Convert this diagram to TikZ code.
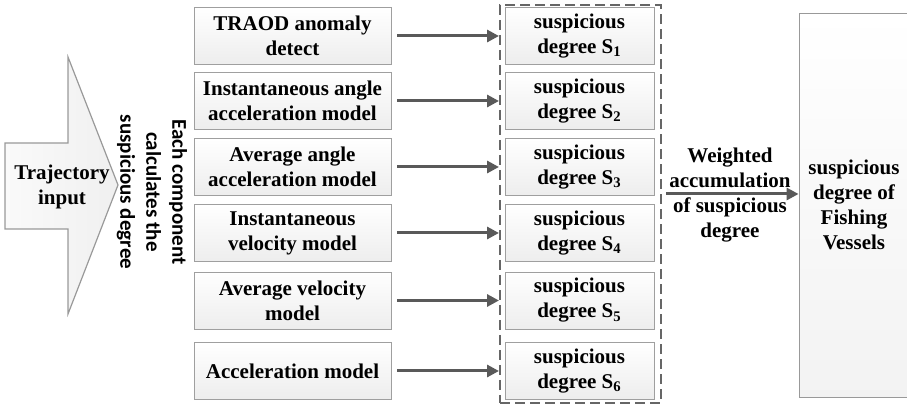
\documentclass[tikz,border=0pt]{standalone}
\usepackage{fontspec}
\setmainfont{Liberation Serif}
\newfontfamily\capfont{Carlito}
\usepackage{tikz}
\usetikzlibrary{arrows.meta,positioning,calc}

\begin{document}
\begin{tikzpicture}[
  x=0.5pt,y=-0.5pt,
  model/.style={rectangle,draw=gray!75,top color=white,bottom color=gray!14,minimum width=98.5pt,minimum height=28.5pt,inner sep=1pt,align=center,font=\bfseries\fontsize{10.5}{12.5}\selectfont},
  score/.style={model,minimum width=74.5pt},
  flow/.style={-{Triangle[length=6pt,width=6pt]},line width=1.5pt,draw=black!65},
  group/.style={rectangle,draw=black!60,dashed,dash pattern=on 5pt off 2.5pt,line width=1pt,minimum width=80.5pt,minimum height=199pt,inner sep=0pt},
  >=Stealth
]
\useasboundingbox (0,0) rectangle (907,405);

% Input arrow
\draw[draw=gray!80,left color=gray!4,right color=gray!12,line width=0.6pt]
  (5,143) -- (68,143) -- (68,57) -- (118,185) -- (68,314) -- (68,229) -- (5,229) -- cycle;
\node[font=\bfseries\fontsize{10.5}{12.5}\selectfont,align=center] (traj) at (62,187) {Trajectory\\input};
\node[font=\capfont\bfseries\fontsize{10.5}{13}\selectfont,align=center,rotate=-90] (each) at (152,192)
  {Each component\\calculates the\\suspicious degree};

% Models
\node[model] (m1) at (292.5,36)  {TRAOD anomaly\\detect};
\node[model] (m2) at (292.5,101) {Instantaneous angle\\acceleration model};
\node[model] (m3) at (292.5,167) {Average angle\\acceleration model};
\node[model] (m4) at (292.5,233) {Instantaneous\\velocity model};
\node[model] (m5) at (292.5,300.5) {Average velocity\\model};
\node[model] (m6) at (292.5,371) {Acceleration model};

% Suspicious degrees
\node[group] (grp) at (580.5,204) {};
\foreach \i/\y in {1/36,2/101,3/167,4/233,5/300.5,6/371}{
  \node[score] (s\i) at (579.5,\y) {suspicious\\degree S\textsubscript{\i}};
  \draw[flow] ([xshift=3pt]m\i.east) -- (m\i.east -| grp.west);
}

% Result
\node[rectangle,draw=gray!80,top color=white,bottom color=gray!10,minimum width=55pt,minimum height=192pt,
  align=center,font=\bfseries\fontsize{10.5}{12.5}\selectfont] (res) at (854,205)
  {suspicious\\degree of\\Fishing\\Vessels};
\draw[flow] ([xshift=2pt,yshift=5pt]grp.east) -- ([yshift=5pt]grp.east -| res.west);
\node[font=\bfseries\fontsize{10.5}{12.5}\selectfont,align=center] (acc) at (730,195)
  {Weighted\\accumulation\\of suspicious\\degree};
\end{tikzpicture}
\end{document}
